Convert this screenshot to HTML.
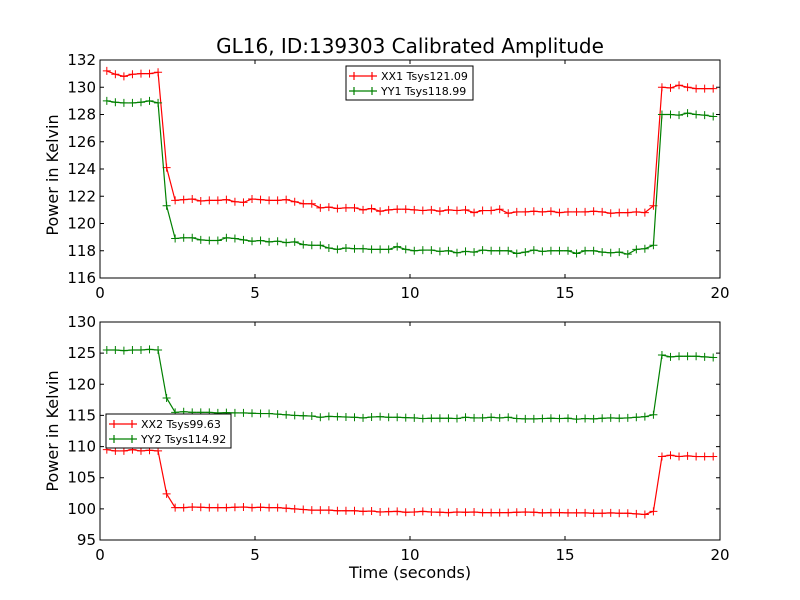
<!DOCTYPE html>
<html><head><meta charset="utf-8"><style>
html,body{margin:0;padding:0;background:#fff;}
svg{display:block;font-family:"DejaVu Sans","Liberation Sans",sans-serif;}
</style></head><body>
<svg id="chart" width="800" height="600" viewBox="0 0 800 600" xmlns="http://www.w3.org/2000/svg">
<rect width="800" height="600" fill="#fff"/>
<text x="410" y="53" font-size="20" text-anchor="middle">GL16, ID:139303 Calibrated Amplitude</text>
<text x="58" y="175" font-size="16" text-anchor="middle" transform="rotate(-90 58 175)">Power in Kelvin</text>
<text x="58" y="431" font-size="16" text-anchor="middle" transform="rotate(-90 58 431)">Power in Kelvin</text>
<text x="410" y="578" font-size="16" text-anchor="middle">Time (seconds)</text>
<g id="top"></g>
<g id="bot"></g>
</svg>
<script>
const xTicks = [0,5,10,15,20];
const topYTicks = [116,118,120,122,124,126,128,130,132];
const botYTicks = [95,100,105,110,115,120,125,130];
const tStart = 0.22, tStep = 0.2755, nPts = 72;
const xx1 = [131.2,130.95,130.8,130.95,131.0,131.0,131.1,124.1,
121.7,121.75,121.8,121.65,121.7,121.7,121.75,121.6,121.55,121.8,
121.75,121.7,121.7,121.75,121.6,121.45,121.45,121.15,121.2,121.1,
121.15,121.15,121.0,121.1,120.9,121.0,121.05,121.05,121.0,120.95,
121.0,120.9,121.0,120.95,121.0,120.8,120.95,120.95,121.05,120.75,
120.85,120.85,120.9,120.85,120.9,120.8,120.85,120.85,120.85,120.9,
120.85,120.75,120.8,120.8,120.85,120.8,
121.3,130.0,129.95,130.15,130.0,129.9,129.9,129.9];
const yy1 = [129.0,128.9,128.85,128.85,128.9,129.0,128.85,121.3,
118.9,118.95,118.95,118.8,118.75,118.75,118.95,118.9,118.8,118.7,
118.75,118.65,118.7,118.6,118.65,118.45,118.4,118.4,118.2,118.1,
118.2,118.15,118.15,118.1,118.1,118.1,118.3,118.1,118.0,118.05,
118.05,117.95,118.0,117.85,117.95,117.9,118.05,118.0,118.0,118.0,
117.8,117.9,118.05,117.95,118.0,118.0,118.0,117.8,118.0,118.0,
117.9,117.85,117.9,117.75,118.1,118.15,
118.4,128.0,128.0,127.95,128.1,128.0,127.95,127.85];
const xx2 = [109.5,109.3,109.3,109.5,109.3,109.4,109.3,102.4,
100.2,100.2,100.3,100.25,100.2,100.2,100.2,100.25,100.3,100.2,
100.25,100.2,100.2,100.1,100.0,99.9,99.8,99.8,99.8,99.7,
99.7,99.7,99.6,99.65,99.5,99.55,99.6,99.45,99.5,99.6,
99.5,99.45,99.4,99.5,99.45,99.5,99.4,99.4,99.4,99.4,
99.45,99.5,99.45,99.35,99.4,99.4,99.35,99.35,99.35,99.3,
99.3,99.35,99.3,99.3,99.2,99.1,
99.6,108.4,108.6,108.4,108.5,108.4,108.4,108.4];
const yy2 = [125.5,125.5,125.4,125.5,125.5,125.6,125.5,117.8,
115.5,115.6,115.5,115.5,115.5,115.4,115.45,115.4,115.4,115.35,
115.3,115.3,115.2,115.1,115.0,114.95,114.9,114.7,114.85,114.8,
114.75,114.7,114.6,114.75,114.8,114.7,114.7,114.65,114.6,114.5,
114.55,114.55,114.55,114.5,114.7,114.6,114.6,114.7,114.6,114.7,
114.5,114.45,114.45,114.5,114.55,114.5,114.55,114.4,114.5,114.45,
114.55,114.6,114.55,114.6,114.7,114.8,
115.1,124.7,124.4,124.5,124.5,124.5,124.4,124.3];
const times = [];
for (let i = 0; i < nPts; i++) times.push(tStart + i * tStep);

const NS = "http://www.w3.org/2000/svg";
function mk(tag, attrs, parent) {
  const e = document.createElementNS(NS, tag);
  for (const k in attrs) e.setAttribute(k, attrs[k]);
  parent.appendChild(e);
  return e;
}
function panel(g, top, bottom, yMin, yMax, yTicks, series, legend) {
  const L = 100, R = 720;
  const sx = v => L + (v - 0) / 20 * (R - L);
  const sy = v => bottom - (v - yMin) / (yMax - yMin) * (bottom - top);
  series.forEach(s => {
    const pts = s.vals.map((v, i) => sx(times[i]).toFixed(2) + "," + sy(v).toFixed(2)).join(" ");
    const pl = mk("polyline", {points: pts, fill: "none", stroke: s.color, "stroke-width": 1.2}, g);
    
    
    let d = "";
    s.vals.forEach((v, i) => {
      const x = sx(times[i]), y = sy(v);
      d += `M${x-4},${y}h8M${x},${y-4}v8`;
    });
    const m = mk("path", {d: d, stroke: s.color, "stroke-width": 1}, g);
    
    
  });
  const frame = mk("rect", {x: L, y: top, width: R - L, height: bottom - top, fill: "none", stroke: "#000", "stroke-width": 1}, g);
  
  
  xTicks.forEach(t => {
    const x = sx(t);
    mk("path", {d: `M${x},${bottom}v-4M${x},${top}v4`, stroke: "#000"}, g);
    const tx = mk("text", {x: x, y: bottom + 20, "font-size": 15, "text-anchor": "middle"}, g);
    tx.textContent = t;
    
    
  });
  yTicks.forEach(t => {
    const y = sy(t);
    mk("path", {d: `M${L},${y}h4M${R},${y}h-4`, stroke: "#000"}, g);
    const tx = mk("text", {x: L - 4, y: y + 5, "font-size": 15, "text-anchor": "end"}, g);
    tx.textContent = t;
    
    
  });
  const lg = mk("g", {}, g);
  
  
  mk("rect", {x: legend.x, y: legend.y, width: legend.w, height: 34, fill: "#fff", stroke: "#000", "stroke-width": 1}, lg);
  series.forEach((s, i) => {
    const y = legend.y + 10 + i * 15;
    mk("path", {d: `M${legend.x+3},${y}h28M${legend.x+8},${y-4}v8M${legend.x+26},${y-4}v8`, stroke: s.color, "stroke-width": 1.2}, lg);
    const tx = mk("text", {x: legend.x + 35, y: y + 4, "font-size": 11}, lg);
    tx.textContent = s.label;
    
    
  });
}
panel(document.getElementById("top"), 60, 278, 116, 132, topYTicks,
  [{vals: xx1, color: "#ff0000", name: "xx1", label: "XX1 Tsys121.09"},
   {vals: yy1, color: "#008000", name: "yy1", label: "YY1 Tsys118.99"}],
  {x: 346, y: 66, w: 127});
panel(document.getElementById("bot"), 322, 540, 95, 130, botYTicks,
  [{vals: xx2, color: "#ff0000", name: "xx2", label: "XX2 Tsys99.63"},
   {vals: yy2, color: "#008000", name: "yy2", label: "YY2 Tsys114.92"}],
  {x: 106, y: 414, w: 125});
</script>
</body></html>
